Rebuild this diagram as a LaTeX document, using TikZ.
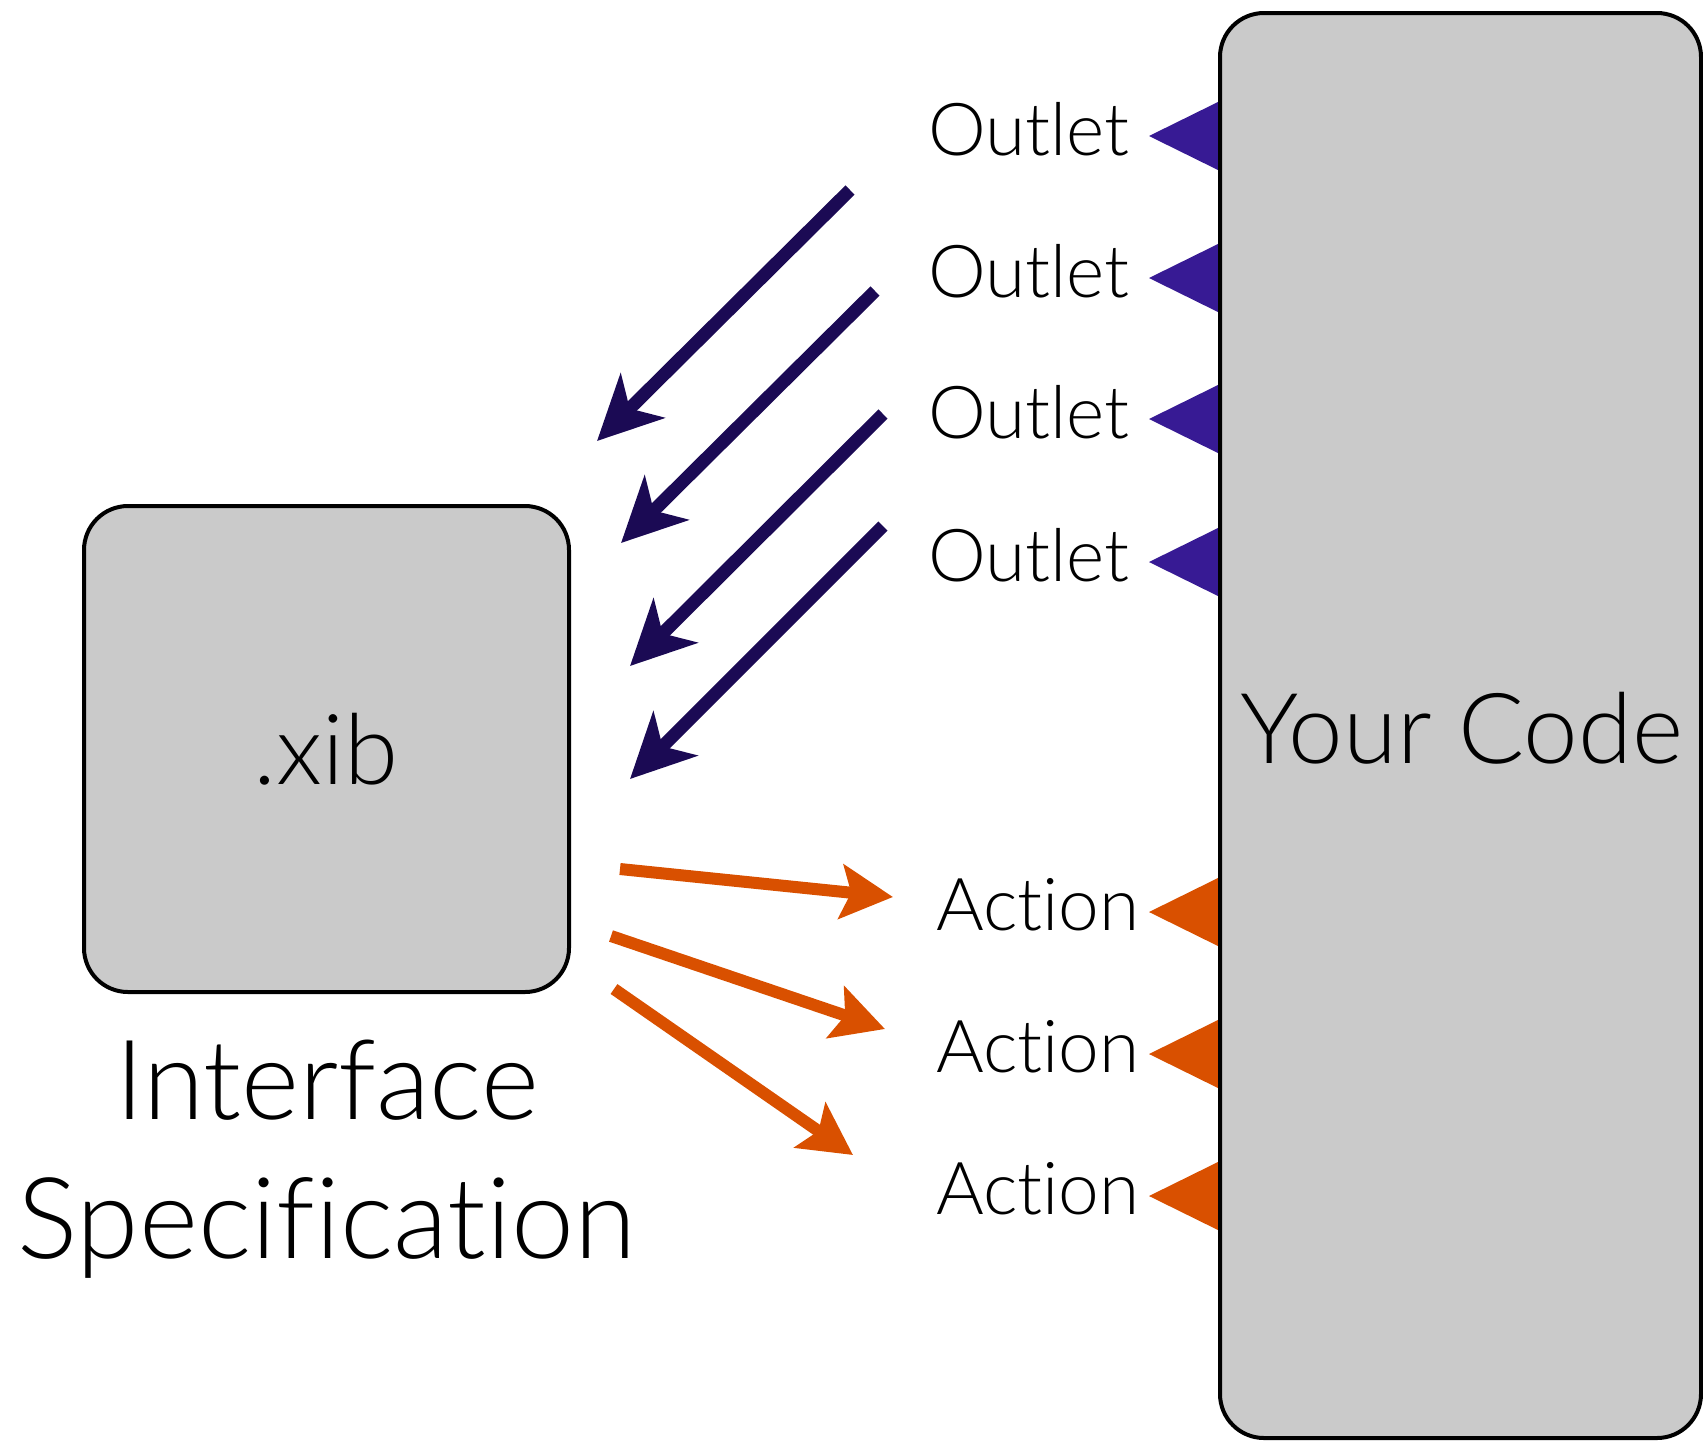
\documentclass[tikz,border=0pt]{standalone}
\usepackage{fontspec}
\setmainfont{Lato}[UprightFont={* Light}, Ligatures={NoCommon}]
\usetikzlibrary{arrows.meta}
\definecolor{boxgray}{HTML}{CACACA}
\definecolor{outletarrow}{HTML}{1B0A54}
\definecolor{outletmark}{HTML}{371A94}
\definecolor{actionorange}{HTML}{D95000}
\begin{document}
\begin{tikzpicture}[x=0.5pt,y=-0.5pt,
  panel/.style={draw=black, line width=2pt, fill=boxgray, rounded corners=22pt},
  portlabel/.style={anchor=base east, inner sep=0pt, font=\fontsize{36.5}{42}\selectfont},
  outletlink/.style={draw=outletarrow, line width=6.5pt,
    -{Stealth[length=32pt,width=31pt,inset=9pt]}},
  actionlink/.style={draw=actionorange, line width=6pt,
    -{Stealth[length=26pt,width=27pt,inset=5pt]}},
  outletport/.style={fill=outletmark},
  actionport/.style={fill=actionorange}]
\useasboundingbox (0,0) rectangle (1703,1442);

% interface file
\draw[panel] (84,506) rectangle (569,992);
\node[anchor=base, inner sep=0pt, font=\fontsize{49}{55}\selectfont] (xib) at (326,784) {.xib};
\node[anchor=base, inner sep=0pt, font=\fontsize{55.5}{62}\selectfont] (spec1) at (327,1119) {Interface};
\node[anchor=base, inner sep=0pt, font=\fontsize{56.5}{63}\selectfont] (spec2) at (327,1258) {Specification};

% port markers on the code block
\foreach \y in {136,278,419,562}
  \fill[outletport] (1149,\y) -- (1222,\y-36) -- (1222,\y+36) -- cycle;
\foreach \y in {912,1054,1196}
  \fill[actionport] (1149,\y) -- (1222,\y-36) -- (1222,\y+36) -- cycle;

% code block
\draw[panel] (1220,13) rectangle (1701,1438);
\node[anchor=base, inner sep=0pt, font=\fontsize{49}{56}\selectfont] (code) at (1462,763) {Your Code};

% port labels
\node[portlabel] (out1) at (1130,155) {Outlet};
\node[portlabel] (out2) at (1130,297) {Outlet};
\node[portlabel] (out3) at (1130,438) {Outlet};
\node[portlabel] (out4) at (1130,581) {Outlet};
\node[portlabel] (act1) at (1140,930) {Action};
\node[portlabel] (act2) at (1140,1072) {Action};
\node[portlabel] (act3) at (1140,1214) {Action};

% outlet connections
\coordinate (o1s) at (850,190); \coordinate (o1e) at (597,441);
\coordinate (o2s) at (875,291); \coordinate (o2e) at (621,543);
\coordinate (o3s) at (883,414); \coordinate (o3e) at (630,666);
\coordinate (o4s) at (883,526); \coordinate (o4e) at (630,779);
\draw[outletlink] (o1s) -- (o1e);
\draw[outletlink] (o2s) -- (o2e);
\draw[outletlink] (o3s) -- (o3e);
\draw[outletlink] (o4s) -- (o4e);

% action connections
\coordinate (a1s) at (620,869); \coordinate (a1e) at (893,897);
\coordinate (a2s) at (611,936); \coordinate (a2e) at (885,1029);
\coordinate (a3s) at (614,989); \coordinate (a3e) at (853,1155);
\draw[actionlink] (a1s) -- (a1e);
\draw[actionlink] (a2s) -- (a2e);
\draw[actionlink] (a3s) -- (a3e);
\end{tikzpicture}
\end{document}
